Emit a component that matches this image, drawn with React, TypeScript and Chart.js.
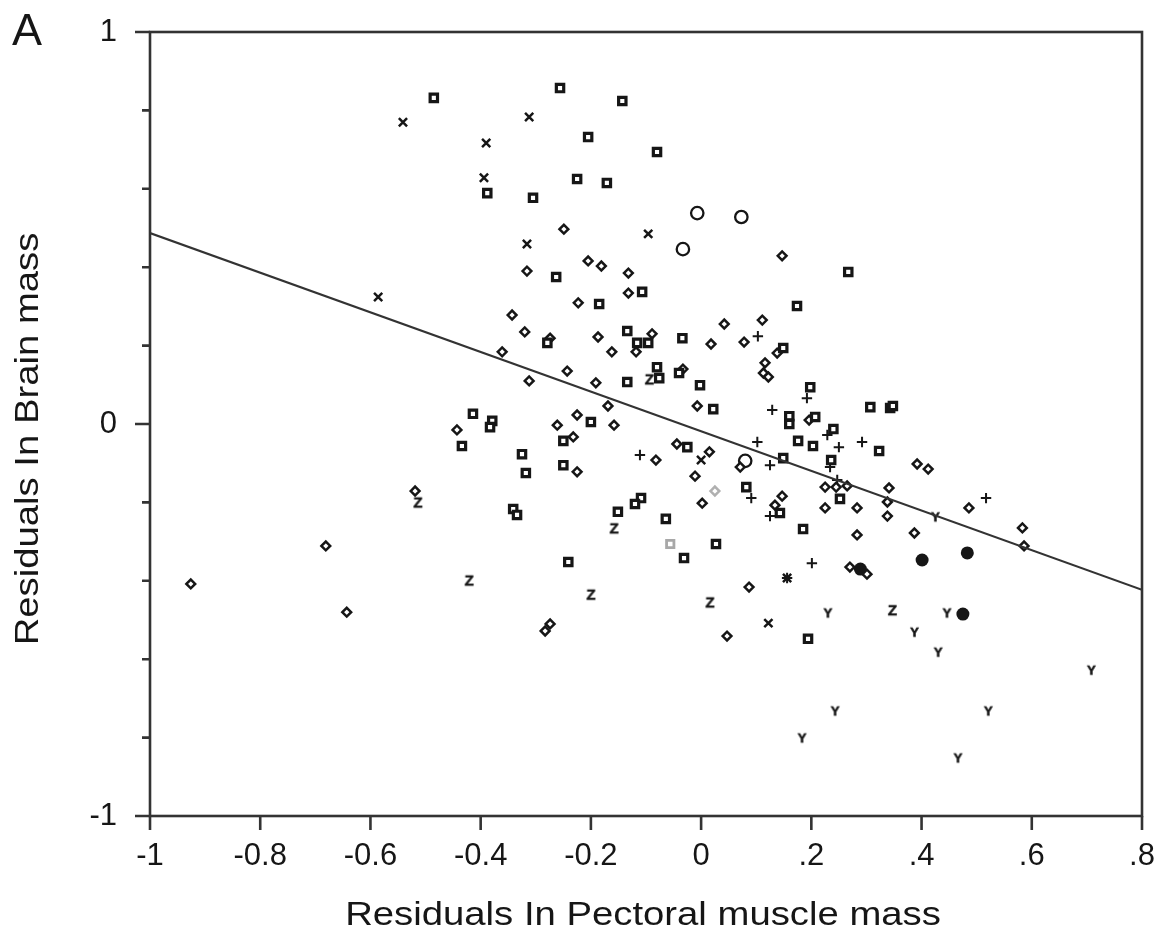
import React, { useEffect, useRef } from "react";
import { Chart, registerables } from "chart.js";

Chart.register(...registerables);

// ---- axis ticks ----
const xTickValues = [-1, -0.8, -0.6, -0.4, -0.2, 0, 0.2, 0.4, 0.6, 0.8];
const xTickLabels = ["-1", "-0.8", "-0.6", "-0.4", "-0.2", "0", ".2", ".4", ".6", ".8"];
const yTickValues = [-1, -0.8, -0.6, -0.4, -0.2, 0, 0.2, 0.4, 0.6, 0.8, 1];
const yTickLabels = ["-1", "", "", "", "", "0", "", "", "", "", "1"];

const xAxisTitle = "Residuals In Pectoral muscle mass";
const yAxisTitle = "Residuals In Brain mass";
const panelLabel = "A";

// ---- series ----
const squareX = [-0.485, -0.256, -0.143, -0.205, -0.08, -0.225, -0.171, -0.388, -0.305, 0.267, -0.263, -0.107, -0.185, 0.174, -0.279, -0.134, -0.116, -0.096, -0.034, -0.08, -0.076, -0.04, -0.134, -0.002, 0.022, -0.414, -0.379, -0.383, -0.2, -0.25, -0.434, -0.325, -0.318, -0.25, -0.025, 0.082, -0.109, -0.12, -0.151, -0.341, -0.334, -0.064, 0.027, -0.031, -0.241, 0.149, 0.198, 0.16, 0.16, 0.207, 0.24, 0.307, 0.343, 0.348, 0.176, 0.203, 0.323, 0.149, 0.236, 0.252, 0.143, 0.185, 0.194];
const squareY = [0.832, 0.857, 0.824, 0.732, 0.694, 0.625, 0.615, 0.589, 0.577, 0.388, 0.375, 0.337, 0.306, 0.301, 0.207, 0.237, 0.207, 0.207, 0.219, 0.145, 0.117, 0.13, 0.107, 0.099, 0.038, 0.026, 0.008, -0.008, 0.005, -0.043, -0.056, -0.077, -0.125, -0.105, -0.059, -0.161, -0.189, -0.204, -0.224, -0.217, -0.232, -0.242, -0.306, -0.342, -0.352, 0.194, 0.094, 0.02, 0.0, 0.018, -0.013, 0.043, 0.041, 0.046, -0.043, -0.056, -0.069, -0.087, -0.092, -0.191, -0.227, -0.268, -0.548];

const graySquareX = [-0.056];
const graySquareY = [-0.306];
const grayDiamondX = [0.025];
const grayDiamondY = [-0.171];

const diamondX = [-0.926, -0.681, -0.643, -0.519, -0.443, -0.343, -0.32, -0.274, -0.361, -0.249, -0.316, -0.205, -0.181, -0.132, -0.132, -0.223, -0.187, -0.089, -0.162, -0.118, 0.042, 0.018, -0.243, -0.312, -0.191, -0.033, -0.169, -0.007, -0.225, -0.261, -0.158, -0.232, -0.044, -0.082, -0.225, -0.011, 0.015, 0.002, 0.071, 0.087, -0.283, -0.274, 0.047, 0.147, 0.111, 0.138, 0.116, 0.113, 0.122, 0.078, 0.196, 0.147, 0.134, 0.225, 0.245, 0.265, 0.341, 0.338, 0.225, 0.283, 0.338, 0.392, 0.412, 0.486, 0.283, 0.387, 0.583, 0.586, 0.27, 0.301];
const diamondY = [-0.408, -0.311, -0.48, -0.171, -0.015, 0.278, 0.235, 0.219, 0.184, 0.497, 0.39, 0.416, 0.403, 0.385, 0.334, 0.309, 0.222, 0.23, 0.184, 0.184, 0.255, 0.204, 0.135, 0.11, 0.105, 0.14, 0.046, 0.046, 0.023, -0.003, -0.003, -0.033, -0.051, -0.092, -0.122, -0.133, -0.071, -0.202, -0.11, -0.416, -0.528, -0.51, -0.541, 0.429, 0.265, 0.181, 0.156, 0.13, 0.12, 0.209, 0.01, -0.184, -0.207, -0.161, -0.161, -0.158, -0.163, -0.199, -0.214, -0.214, -0.235, -0.102, -0.115, -0.214, -0.283, -0.278, -0.265, -0.311, -0.365, -0.383];

const crossX = [-0.541, -0.312, -0.39, -0.394, -0.316, -0.096, -0.586, 0.0, 0.122, 0.156];
const crossY = [0.77, 0.783, 0.717, 0.628, 0.459, 0.485, 0.324, -0.092, -0.508, -0.393];

const plusX = [-0.111, 0.103, 0.192, 0.129, 0.102, 0.25, 0.292, 0.125, 0.234, 0.229, 0.247, 0.091, 0.125, 0.517, 0.201, 0.156];
const plusY = [-0.079, 0.224, 0.066, 0.036, -0.046, -0.059, -0.046, -0.105, -0.11, -0.028, -0.143, -0.189, -0.235, -0.189, -0.355, -0.393];

const openCircleX = [-0.007, 0.073, -0.033, 0.08];
const openCircleY = [0.538, 0.528, 0.446, -0.094];

const filledCircleX = [0.289, 0.401, 0.483, 0.475];
const filledCircleY = [-0.37, -0.347, -0.329, -0.485];

const zX = [-0.514, -0.158, -0.421, -0.2, 0.016, -0.094, 0.347];
const zY = [-0.199, -0.265, -0.398, -0.434, -0.454, 0.115, -0.474];

const yLetterX = [0.23, 0.446, 0.387, 0.43, 0.708, 0.243, 0.521, 0.183, 0.466, 0.425];
const yLetterY = [-0.482, -0.482, -0.531, -0.582, -0.628, -0.732, -0.732, -0.801, -0.852, -0.237];

// regression line end points
const fitX = [-1, 0.8];
const fitY = [0.487, -0.423];

const FONT = '"Liberation Sans", Arial, Helvetica, sans-serif';
const INK = "#161616";
const AXIS = "#333333";

const pts = (xs: number[], ys: number[]) => xs.map((x, i) => ({ x, y: ys[i] }));

function letterCanvas(ch: string, size: number, color: string): HTMLCanvasElement {
  const c = document.createElement("canvas");
  c.width = Math.ceil(size * 1.1) + 2;
  c.height = Math.ceil(size * 1.1) + 2;
  const g = c.getContext("2d")!;
  g.fillStyle = color;
  g.strokeStyle = color;
  g.lineWidth = 0.6;
  g.font = `bold ${size}px ${FONT}`;
  g.textAlign = "center";
  g.textBaseline = "middle";
  g.fillText(ch, c.width / 2, c.height / 2 + 1);
  g.strokeText(ch, c.width / 2, c.height / 2 + 1);
  return c;
}

const decorPlugin = {
  id: "decor",
  beforeDatasetsDraw(chart: any) {
    const { ctx, chartArea: a, scales } = chart;
    const xs = scales.x;
    const ys = scales.y;
    ctx.save();
    ctx.strokeStyle = AXIS;
    ctx.lineWidth = 2.6;
    ctx.strokeRect(a.left, a.top, a.right - a.left, a.bottom - a.top);
    ctx.beginPath();
    yTickValues.forEach((v, i) => {
      const py = ys.getPixelForValue(v);
      const len = yTickLabels[i] ? 15 : 8;
      ctx.moveTo(a.left - len, py);
      ctx.lineTo(a.left, py);
    });
    xTickValues.forEach((v) => {
      const px = xs.getPixelForValue(v);
      ctx.moveTo(px, a.bottom);
      ctx.lineTo(px, a.bottom + 14);
    });
    ctx.stroke();
    ctx.restore();
  },
  afterDraw(chart: any) {
    const { ctx, chartArea: a } = chart;
    ctx.save();
    ctx.fillStyle = INK;
    ctx.font = `33px ${FONT}`;
    ctx.textAlign = "center";
    ctx.textBaseline = "alphabetic";
    ctx.save();
    ctx.translate((a.left + a.right) / 2 - 3, 925);
    ctx.scale(1.16, 1);
    ctx.fillText(xAxisTitle, 0, 0);
    ctx.restore();
    ctx.save();
    ctx.translate(38, 439);
    ctx.rotate(-Math.PI / 2);
    ctx.scale(1.16, 1);
    ctx.fillText(yAxisTitle, 0, 0);
    ctx.restore();
    ctx.font = `45px ${FONT}`;
    ctx.textAlign = "left";
    ctx.fillText(panelLabel, 12, 45);
    ctx.restore();
  },
};

const zeroPad = (s: any) => {
  s.paddingLeft = 0;
  s.paddingRight = 0;
  s.paddingTop = 0;
  s.paddingBottom = 0;
};

export default function App() {
  const ref = useRef<HTMLCanvasElement | null>(null);

  useEffect(() => {
    if (!ref.current) return;
    const zImg = letterCanvas("Z", 15, INK);
    const yImg = letterCanvas("Y", 13, INK);

    const chart = new Chart(ref.current, {
      type: "scatter",
      data: {
        datasets: [
          {
            type: "line",
            label: "fit",
            data: pts(fitX, fitY),
            borderColor: AXIS,
            borderWidth: 2.2,
            pointRadius: 0,
            fill: false,
          } as any,
          {
            label: "squares",
            data: pts(squareX, squareY),
            pointStyle: "rect",
            pointRadius: 5.2,
            borderWidth: 3.2,
            borderColor: INK,
            backgroundColor: "#ffffff",
          },
          {
            label: "gray squares",
            data: pts(graySquareX, graySquareY),
            pointStyle: "rect",
            pointRadius: 5.2,
            borderWidth: 2.8,
            borderColor: "#a8a8a8",
            backgroundColor: "#ffffff",
          },
          {
            label: "diamonds",
            data: pts(diamondX, diamondY),
            pointStyle: "rectRot",
            pointRadius: 4.4,
            borderWidth: 2.5,
            borderColor: INK,
            backgroundColor: "#ffffff",
          },
          {
            label: "gray diamonds",
            data: pts(grayDiamondX, grayDiamondY),
            pointStyle: "rectRot",
            pointRadius: 4.4,
            borderWidth: 2.5,
            borderColor: "#b0b0b0",
            backgroundColor: "#ffffff",
          },
          {
            label: "crosses",
            data: pts(crossX, crossY),
            pointStyle: "crossRot",
            pointRadius: 5.8,
            borderWidth: 2.5,
            borderColor: INK,
          },
          {
            label: "plus",
            data: pts(plusX, plusY),
            pointStyle: "cross",
            pointRadius: 5.2,
            borderWidth: 2,
            borderColor: INK,
          },
          {
            label: "open circles",
            data: pts(openCircleX, openCircleY),
            pointStyle: "circle",
            pointRadius: 6.2,
            borderWidth: 2.3,
            borderColor: INK,
            backgroundColor: "rgba(255,255,255,0)",
          },
          {
            label: "filled circles",
            data: pts(filledCircleX, filledCircleY),
            pointStyle: "circle",
            pointRadius: 6.5,
            borderWidth: 0,
            backgroundColor: INK,
          },
          {
            label: "Z",
            data: pts(zX, zY),
            pointStyle: zImg as any,
            pointRadius: 6,
          },
          {
            label: "Y",
            data: pts(yLetterX, yLetterY),
            pointStyle: yImg as any,
            pointRadius: 5,
          },
        ],
      },
      options: {
        responsive: false,
        animation: false,
        devicePixelRatio: 1,
        layout: { padding: { left: 0, top: 32, right: 16, bottom: 0 } },
        plugins: {
          legend: { display: false },
          tooltip: { enabled: false },
          title: { display: false },
        },
        scales: {
          x: {
            type: "linear",
            min: -1,
            max: 0.8,
            afterBuildTicks: (s: any) => {
              s.ticks = xTickValues.map((v) => ({ value: v }));
            },
            afterFit: (s: any) => {
              s.height = 112;
              zeroPad(s);
            },
            grid: { display: false, drawTicks: false },
            border: { display: false },
            ticks: {
              autoSkip: false,
              maxRotation: 0,
              padding: 22,
              color: INK,
              font: { family: FONT, size: 31 },
              callback: (_v: any, i: number) => xTickLabels[i],
            },
          },
          y: {
            type: "linear",
            min: -1,
            max: 1,
            afterBuildTicks: (s: any) => {
              s.ticks = yTickValues.map((v) => ({ value: v }));
            },
            afterFit: (s: any) => {
              s.width = 150;
              zeroPad(s);
            },
            grid: { display: false, drawTicks: false },
            border: { display: false },
            ticks: {
              autoSkip: false,
              padding: 33,
              color: INK,
              font: { family: FONT, size: 31 },
              callback: (_v: any, i: number) => yTickLabels[i],
            },
          },
        },
      },
      plugins: [decorPlugin],
    });
    return () => chart.destroy();
  }, []);

  return (
    <div style={{ position: "absolute", left: 0, top: 0, width: 1158, height: 928, background: "#ffffff" }}>
      <canvas ref={ref} width={1158} height={928} style={{ width: 1158, height: 928, display: "block" }} />
    </div>
  );
}
